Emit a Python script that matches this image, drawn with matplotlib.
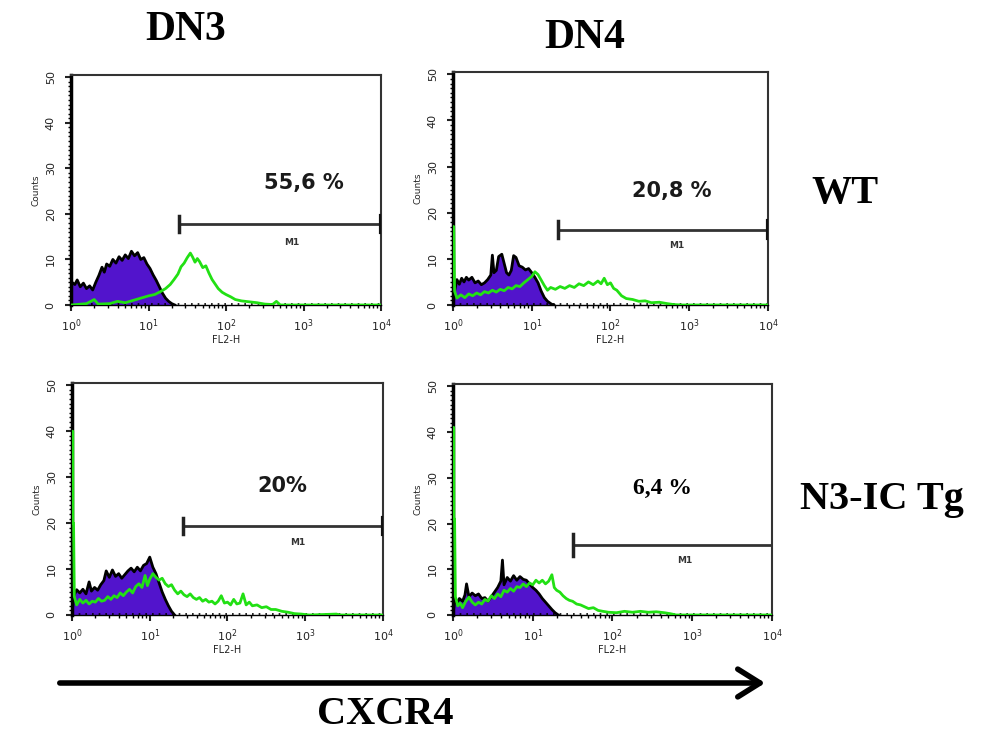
import numpy as np
import matplotlib
matplotlib.use("Agg")
import matplotlib.pyplot as plt
from matplotlib.ticker import MultipleLocator, LogLocator, NullFormatter

# histogram data: x in decades (log10 FL2-H), y in counts
dn3_wt_iso_x = [0.00, 0.01, 0.05, 0.08, 0.12, 0.16, 0.20, 0.24, 0.28, 0.32, 0.36, 0.40, 0.43, 0.46,
                0.50, 0.54, 0.58, 0.62, 0.66, 0.70, 0.74, 0.78, 0.82, 0.86, 0.90, 0.94, 0.98, 1.02,
                1.06, 1.10, 1.14, 1.18, 1.22, 1.26, 1.30, 1.34]
dn3_wt_iso_y = [0, 5, 4.5, 5.5, 4, 4.8, 3.6, 4.2, 3.3, 5, 6.5, 8.3, 7.2, 9,
                8.5, 10, 9.2, 10.6, 9.8, 11, 10.2, 11.8, 10.8, 11.5, 10, 10.4, 9, 8,
                6.6, 5.4, 4, 2.6, 1.5, 0.8, 0.3, 0]
dn3_wt_cx_x = [0.0, 0.2, 0.3, 0.35, 0.5, 0.6, 0.7, 0.8, 0.9, 1.0, 1.08, 1.15, 1.22, 1.28, 1.33,
               1.38, 1.42, 1.46, 1.50, 1.54, 1.57, 1.60, 1.63, 1.66, 1.70, 1.74, 1.78, 1.82,
               1.86, 1.90, 1.95, 2.00, 2.06, 2.12, 2.20, 2.30, 2.40, 2.50, 2.60, 2.65, 2.70, 4.0]
dn3_wt_cx_y = [0, 0.3, 1.2, 0.2, 0.3, 0.8, 0.5, 1.0, 1.5, 2.0, 2.3, 2.9, 3.6, 4.5, 5.6,
               6.8, 8.4, 9.2, 10.4, 11.4, 10.5, 9.4, 10.2, 9.5, 8.2, 8.6, 7.0, 5.6,
               4.6, 3.6, 2.8, 2.3, 1.8, 1.2, 0.9, 0.7, 0.5, 0.2, 0.1, 0.8, 0, 0]

dn4_wt_iso_x = [0.00, 0.02, 0.05, 0.08, 0.11, 0.14, 0.17, 0.20, 0.24, 0.28, 0.32, 0.36, 0.40, 0.44,
                0.48, 0.50, 0.52, 0.55, 0.58, 0.62, 0.65, 0.68, 0.71, 0.74, 0.77, 0.80, 0.84,
                0.88, 0.92, 0.96, 1.00, 1.04, 1.08, 1.12, 1.16, 1.20, 1.25, 1.28]
dn4_wt_iso_y = [0, 3, 5.5, 4.5, 5.8, 5, 6, 5.4, 6, 4.8, 5.2, 4.4, 4.8, 5.5,
                6.5, 10.8, 7, 7.5, 10.5, 11, 9, 7, 6.5, 7.5, 10.7, 10.3, 8.5,
                8.2, 7.6, 7.9, 7, 6, 4.8, 3, 1.6, 0.8, 0.2, 0]
dn4_wt_cx_x = [0.0, 0.01, 0.02, 0.05, 0.10, 0.15, 0.20, 0.25, 0.30, 0.35, 0.40, 0.45, 0.50, 0.55,
               0.60, 0.65, 0.70, 0.75, 0.80, 0.85, 0.90, 0.95, 1.00, 1.04, 1.08, 1.12, 1.16,
               1.20, 1.24, 1.30, 1.36, 1.42, 1.48, 1.54, 1.60, 1.66, 1.72, 1.78, 1.84, 1.88,
               1.92, 1.96, 2.00, 2.04, 2.08, 2.14, 2.20, 2.28, 2.36, 2.44, 2.52, 2.62, 2.72,
               2.80, 2.90, 4.0]
dn4_wt_cx_y = [17, 17, 3, 1.5, 2.2, 1.6, 2.4, 2.0, 2.6, 2.2, 2.9, 2.6, 3.2, 2.8,
               3.4, 3.1, 3.8, 3.5, 4.2, 4.0, 4.8, 5.5, 6.2, 7.2, 6.6, 5.4, 4.2,
               3.2, 3.8, 3.4, 4.0, 3.6, 4.2, 3.8, 4.6, 4.2, 5.0, 4.4, 5.2, 4.6,
               5.8, 4.4, 4.8, 3.6, 3.2, 2.0, 1.4, 1.2, 0.8, 0.9, 0.5, 0.6, 0.3,
               0.1, 0, 0]

dn3_tg_iso_x = [0.00, 0.02, 0.06, 0.10, 0.14, 0.18, 0.22, 0.25, 0.29, 0.33, 0.37, 0.41, 0.44, 0.48,
                0.52, 0.56, 0.60, 0.64, 0.68, 0.72, 0.76, 0.80, 0.84, 0.88, 0.92, 0.96, 1.00,
                1.04, 1.08, 1.12, 1.16, 1.20, 1.24, 1.28, 1.32]
dn3_tg_iso_y = [0, 4, 5.5, 4.8, 5.6, 4.6, 7.2, 5.2, 6.0, 5.4, 6.6, 7.5, 9.6, 8.2,
                9.8, 8.4, 9.0, 8.0, 8.8, 9.6, 10.2, 9.4, 10.4, 9.6, 10.8, 11.2, 12.6,
                10.4, 9.0, 7.0, 5.0, 3.4, 2.0, 0.8, 0]
dn3_tg_cx_x = [0.0, 0.01, 0.012, 0.02, 0.03, 0.06, 0.10, 0.14, 0.18, 0.22, 0.26, 0.30, 0.34, 0.38,
               0.42, 0.46, 0.50, 0.54, 0.58, 0.62, 0.66, 0.70, 0.74, 0.78, 0.82, 0.86, 0.90,
               0.94, 0.97, 1.00, 1.04, 1.08, 1.12, 1.16, 1.20, 1.24, 1.28, 1.32, 1.36, 1.40,
               1.44, 1.48, 1.52, 1.56, 1.60, 1.64, 1.68, 1.72, 1.76, 1.80, 1.84, 1.88, 1.92,
               1.96, 2.00, 2.04, 2.08, 2.12, 2.16, 2.20, 2.24, 2.28, 2.32, 2.38, 2.44, 2.50,
               2.56, 2.62, 2.70, 2.78, 2.86, 2.95, 3.05, 3.40, 3.45, 4.0]
dn3_tg_cx_y = [40, 40, 20, 20, 4, 2.2, 3.4, 2.6, 3.2, 2.4, 3.0, 2.8, 3.6, 3.0,
               3.2, 4.0, 3.4, 4.2, 3.8, 4.8, 4.2, 5.0, 5.6, 4.8, 6.2, 6.8, 6.0,
               8.6, 6.4, 7.8, 9.0, 8.2, 7.6, 8.0, 6.8, 6.2, 6.6, 5.4, 4.6, 5.2,
               4.4, 4.0, 4.6, 3.8, 3.4, 3.8, 3.0, 3.4, 2.8, 3.0, 2.4, 3.0, 4.2,
               2.6, 2.8, 2.2, 3.4, 2.4, 2.6, 4.6, 2.2, 2.8, 2.0, 2.2, 1.6, 1.8,
               1.2, 1.2, 0.8, 0.6, 0.3, 0.2, 0, 0.2, 0, 0]

dn4_tg_iso_x = [0.00, 0.02, 0.05, 0.08, 0.12, 0.15, 0.17, 0.20, 0.24, 0.28, 0.32, 0.36, 0.40, 0.44,
                0.48, 0.52, 0.56, 0.60, 0.62, 0.64, 0.68, 0.72, 0.76, 0.80, 0.84, 0.88, 0.92,
                0.96, 1.00, 1.04, 1.08, 1.12, 1.16, 1.20, 1.24, 1.28, 1.32]
dn4_tg_iso_y = [0, 3, 2.6, 3.6, 3.0, 4.4, 6.8, 4.0, 4.8, 4.2, 4.6, 3.6, 3.8, 3.0,
                4.0, 5.0, 6.0, 7.4, 12.0, 6.6, 8.2, 7.4, 8.6, 7.6, 8.4, 7.8, 7.6,
                6.8, 6.0, 5.4, 4.6, 3.6, 2.8, 2.0, 1.2, 0.5, 0]
dn4_tg_cx_x = [0.0, 0.01, 0.012, 0.02, 0.03, 0.06, 0.09, 0.12, 0.16, 0.20, 0.24, 0.28, 0.32, 0.36,
               0.40, 0.44, 0.48, 0.52, 0.56, 0.60, 0.64, 0.68, 0.72, 0.76, 0.80, 0.84, 0.88,
               0.92, 0.96, 1.00, 1.04, 1.08, 1.12, 1.16, 1.20, 1.24, 1.27, 1.30, 1.34, 1.38,
               1.42, 1.46, 1.50, 1.55, 1.60, 1.65, 1.70, 1.76, 1.82, 1.88, 1.95, 2.05, 2.15,
               2.25, 2.35, 2.45, 2.55, 2.65, 2.72, 2.80, 4.0]
dn4_tg_cx_y = [41, 41, 21, 21, 4, 2.0, 2.6, 1.6, 3.0, 3.9, 2.8, 2.2, 2.8, 2.4,
               3.4, 3.0, 4.2, 3.6, 4.6, 4.0, 5.4, 5.0, 5.8, 5.2, 6.2, 6.0, 6.8,
               6.2, 7.0, 6.6, 7.6, 7.0, 7.6, 6.8, 7.4, 8.8, 6.0, 5.4, 5.0, 4.2,
               3.6, 3.2, 3.0, 2.4, 2.2, 1.8, 1.4, 1.6, 1.0, 0.8, 0.6, 0.5, 0.8,
               0.6, 0.8, 0.6, 0.7, 0.5, 0.3, 0, 0]

# M1 gate (start decade, end decade, counts level) and % positive
gates = [(1.39, 4.0, 17.8), (1.33, 4.0, 16.3), (1.43, 4.0, 19.4), (1.50, 4.0, 15.2)]
pct_labels = ["55,6 %", "20,8 %", "20%", "6,4 %"]
pct_pos = [(3.0, 26.7), (2.78, 24.7), (2.7, 28.0), (2.63, 27.7)]
m1_pos = [(2.85, 13.7), (2.84, 12.9), (2.9, 15.7), (2.91, 11.9)]

panels = [
    (dn3_wt_iso_x, dn3_wt_iso_y, dn3_wt_cx_x, dn3_wt_cx_y),
    (dn4_wt_iso_x, dn4_wt_iso_y, dn4_wt_cx_x, dn4_wt_cx_y),
    (dn3_tg_iso_x, dn3_tg_iso_y, dn3_tg_cx_x, dn3_tg_cx_y),
    (dn4_tg_iso_x, dn4_tg_iso_y, dn4_tg_cx_x, dn4_tg_cx_y),
]

W, H = 987, 733
# axes boxes in pixels: left, top, right, bottom
boxes = [(71, 75, 381, 305), (453, 72, 768, 305), (72, 383, 383, 615), (453, 384, 772, 615)]

fig = plt.figure(figsize=(W / 100, H / 100), dpi=100)
purple = "#5214cc"
green = "#22e014"

for i, (ix, iy, gx, gy) in enumerate(panels):
    l, t, r, b = boxes[i]
    ax = fig.add_axes([l / W, 1 - b / H, (r - l) / W, (b - t) / H])
    ixv = 10 ** np.array(ix)
    gxv = 10 ** np.array(gx)
    ax.fill_between(ixv, iy, 0, color=purple, lw=0, zorder=2)
    ax.plot(ixv, iy, color="black", lw=2, zorder=3)
    ax.plot([1, 1e4], [0.2, 0.2], color="black", lw=1.2, ls=(0, (1, 3)), zorder=2)
    ax.plot(gxv, gy, color=green, lw=2, zorder=4)

    g0, g1, gl = gates[i]
    ax.plot([10 ** g0, 10 ** g1], [gl, gl], color="#333333", lw=2, zorder=5)
    th = 1.8 if i != 3 else 2.4
    ax.plot([10 ** g0, 10 ** g0], [gl - th, gl + th], color="#222222", lw=2.5, zorder=5)
    if i != 3:
        ax.plot([10 ** g1, 10 ** g1], [gl - th, gl + th], color="#111111", lw=3, zorder=5)
    ax.text(10 ** m1_pos[i][0], m1_pos[i][1], "M1", fontsize=6.5, fontweight="bold",
            ha="center", va="center", color="#333333")
    if i == 3:
        ax.text(10 ** pct_pos[i][0], pct_pos[i][1], pct_labels[i], fontsize=17,
                family="Liberation Serif", fontweight="bold", ha="center", va="center")
    else:
        ax.text(10 ** pct_pos[i][0], pct_pos[i][1], pct_labels[i], fontsize=15,
                fontweight="bold", ha="center", va="center", color="#1a1a1a")

    ax.set_xscale("log")
    ax.set_xlim(1, 1e4)
    ax.set_ylim(0, 50.5)
    ax.xaxis.set_major_locator(LogLocator(base=10, numticks=10))
    ax.xaxis.set_minor_locator(LogLocator(base=10, subs=np.arange(2, 10), numticks=10))
    ax.xaxis.set_minor_formatter(NullFormatter())
    ax.yaxis.set_major_locator(MultipleLocator(10))
    ax.yaxis.set_minor_locator(MultipleLocator(1))
    ax.tick_params(axis="both", which="major", direction="out", length=4, width=1.5,
                   labelsize=8, colors="#222222")
    ax.tick_params(axis="x", which="major", pad=5)
    ax.tick_params(axis="y", which="major", pad=7)
    ax.tick_params(axis="both", which="minor", direction="out", length=2, width=1)
    for lab in ax.get_yticklabels():
        lab.set_rotation(90)
        lab.set_va("center")
    ax.set_xlabel("FL2-H", fontsize=7, labelpad=1, color="#222222")
    ax.set_ylabel("Counts", fontsize=6.5, labelpad=4, color="#222222")
    ax.spines["left"].set_linewidth(2.5)
    ax.spines["top"].set_linewidth(1.5)
    ax.spines["right"].set_linewidth(1.5)
    ax.spines["top"].set_color("#333333")
    ax.spines["right"].set_color("#333333")
    ax.spines["bottom"].set_linewidth(1)

serif = dict(family="Liberation Serif", fontweight="bold", color="black")
fig.text(186 / W, 1 - 30 / H, "DN3", fontsize=30, ha="center", va="center", **serif)
fig.text(585 / W, 1 - 38 / H, "DN4", fontsize=30, ha="center", va="center", **serif)
fig.text(845 / W, 1 - 193 / H, "WT", fontsize=29, ha="center", va="center", **serif)
fig.text(882 / W, 1 - 500 / H, "N3-IC Tg", fontsize=29, ha="center", va="center", **serif)
fig.text(385 / W, 1 - 715 / H, "CXCR4", fontsize=29, ha="center", va="center", **serif)

fig.patches.append(matplotlib.patches.FancyArrowPatch(
    (57 / W, 1 - 683 / H), (768 / W, 1 - 683 / H), transform=fig.transFigure,
    arrowstyle="->,head_length=8,head_width=5", lw=4, color="black",
    mutation_scale=2))

fig.savefig("out.png", dpi=100)
